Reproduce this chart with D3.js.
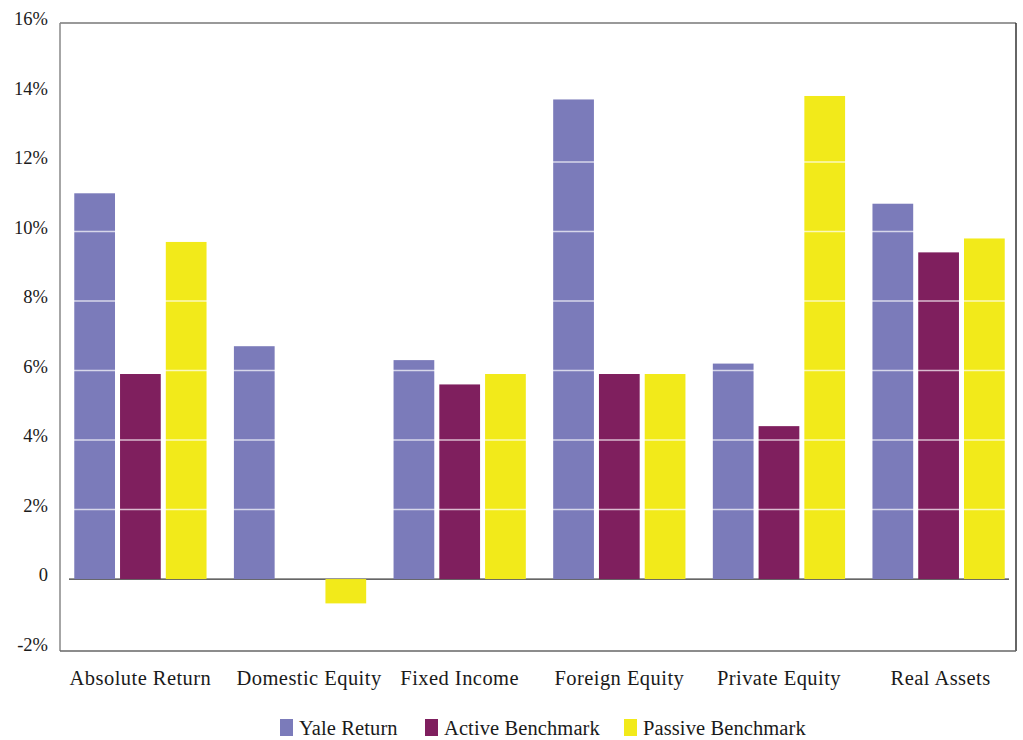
<!DOCTYPE html>
<html><head><meta charset="utf-8">
<script src="https://cdn.jsdelivr.net/npm/d3@7"></script>
<style>
body{margin:0;background:#fff;}
text{font-family:"Liberation Serif","DejaVu Serif",serif;fill:#1a1a1a;}
</style></head>
<body><svg id="c" width="1023" height="740"></svg>
<script>
const categories = ["Absolute Return","Domestic Equity","Fixed Income","Foreign Equity","Private Equity","Real Assets"];
const seriesNames = ["Yale Return","Active Benchmark","Passive Benchmark"];
const yaleReturn = [11.1, 6.7, 6.3, 13.8, 6.2, 10.8];
const activeBenchmark = [5.9, 0, 5.6, 5.9, 4.4, 9.4];
const passiveBenchmark = [9.7, -0.7, 5.9, 5.9, 13.9, 9.8];
const tickValues = [-2, 0, 2, 4, 6, 8, 10, 12, 14, 16];
const tickLabels = ["-2%","0","2%","4%","6%","8%","10%","12%","14%","16%"];
const colors = ["#7B7BBA","#7F1F5E","#F2EA1A"];

const series = [yaleReturn, activeBenchmark, passiveBenchmark];
const svg = d3.select("#c");
const L=60, R=1016, T=23, B=651;
const x = d3.scaleBand().domain(categories).range([L+1.5,R+1.5]).paddingInner(0.1715).paddingOuter(0.08);
const x1 = d3.scaleBand().domain(seriesNames).range([0,x.bandwidth()]).paddingInner(0.11);
const y = d3.scaleLinear().domain([-2.07,16]).range([B,T]);

// zero line
svg.append("line").attr("x1",L+9).attr("x2",R-7).attr("y1",y(0)).attr("y2",y(0))
  .attr("stroke","#333").attr("stroke-width",1.3);

// bars
categories.forEach((c,i)=>{
  series.forEach((s,j)=>{
    const v=s[i];
    if(v===0) return;
    svg.append("rect").attr("x",x(c)+x1(seriesNames[j])).attr("width",x1.bandwidth())
      .attr("y",y(Math.max(0,v))).attr("height",Math.abs(y(v)-y(0)))
      .attr("fill",colors[j]);
  });
});

// white gridlines over bars
tickValues.filter(v=>v>0 && v<16).forEach(v=>{
  svg.append("line").attr("x1",L).attr("x2",R).attr("y1",y(v)).attr("y2",y(v))
    .attr("stroke","#fff").attr("stroke-opacity",0.7).attr("stroke-width",1.5);
});

// frame
svg.append("path").attr("d",`M${L},${T}H${R}`).attr("stroke","#777").attr("stroke-width",1.5).attr("fill","none");
svg.append("path").attr("d",`M${L},${T}V${B}`).attr("stroke","#888").attr("stroke-width",1.5).attr("fill","none");
svg.append("path").attr("d",`M${R},${T}V${B}`).attr("stroke","#333").attr("stroke-width",1.5).attr("fill","none");
svg.append("path").attr("d",`M${L},${B}H${R}`).attr("stroke","#666").attr("stroke-width",1.5).attr("fill","none");

// y axis labels
const yAxis = d3.axisLeft(y).tickValues(tickValues).tickFormat((d,i)=>tickLabels[i]).tickSize(0).tickPadding(12);
const ga = svg.append("g").attr("transform",`translate(${L},-4)`).call(yAxis);
ga.select(".domain").remove();
ga.selectAll("text").attr("font-size",18.5).attr("font-family","Liberation Serif").attr("fill","#1a1a1a");

// x axis labels
const xAxis = d3.axisBottom(x).tickSize(0).tickPadding(0);
const gx = svg.append("g").attr("transform",`translate(0,670)`).call(xAxis);
gx.select(".domain").remove();
gx.selectAll("text").attr("font-size",20.5).attr("letter-spacing",0.45).attr("font-family","Liberation Serif").attr("fill","#1a1a1a")
  .attr("dx",d=>d==="Domestic Equity"?9:(d==="Real Assets"?2:0));

// legend
const legendX=[280,425,624];
seriesNames.forEach((n,j)=>{
  svg.append("rect").attr("x",legendX[j]).attr("y",719).attr("width",13).attr("height",17).attr("fill",colors[j]);
  svg.append("text").attr("x",legendX[j]+19).attr("y",735).attr("font-size",20.5).attr("letter-spacing",0.1).text(n);
});
</script></body></html>
